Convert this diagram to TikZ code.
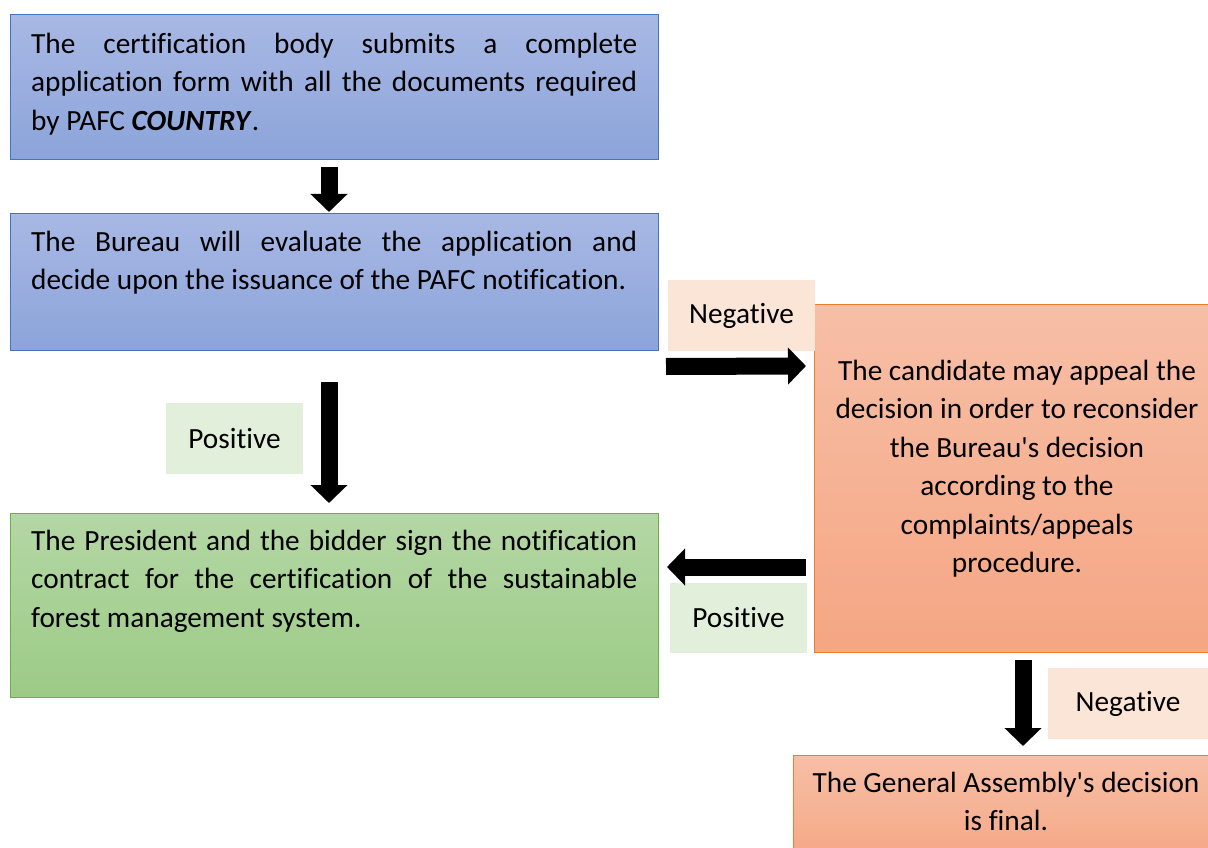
\documentclass[tikz,border=0pt]{standalone}
\usepackage{fontspec}
\setmainfont{Carlito}[Ligatures={TeXOff,NoCommon}]
\usetikzlibrary{arrows.meta,calc}
\definecolor{bluetop}{HTML}{A8B8E4}
\definecolor{bluebot}{HTML}{8CA4DA}
\definecolor{blueline}{HTML}{4472C4}
\definecolor{greentop}{HTML}{B4D7A5}
\definecolor{greenbot}{HTML}{9CCB86}
\definecolor{greenline}{HTML}{70AD47}
\definecolor{orangetop}{HTML}{F7BFA7}
\definecolor{orangebot}{HTML}{F5A683}
\definecolor{orangeline}{HTML}{ED7D31}
\definecolor{negfill}{HTML}{FBE5D6}
\definecolor{posfill}{HTML}{E2EFDA}
\begin{document}
\begin{tikzpicture}[x=1pt,y=-1pt,
  every node/.style={font=\fontsize{29.3}{38.4}\selectfont},
  box/.style={draw, line width=1pt, anchor=north west, inner sep=0pt, outer sep=0pt},
  bluebox/.style={box, draw=blueline, top color=bluetop, bottom color=bluebot},
  greenbox/.style={box, draw=greenline, top color=greentop, bottom color=greenbot},
  orangebox/.style={box, draw=orangeline, top color=orangetop, bottom color=orangebot},
  lbl/.style={anchor=north west, inner sep=0pt, outer sep=0pt},
  neglbl/.style={lbl, fill=negfill},
  poslbl/.style={lbl, fill=posfill},
  jtext/.style={anchor=north west, inner sep=0pt, text width=606pt, align=justify},
  ctext/.style={anchor=north, inner sep=0pt, align=center},
  blockarrow/.style={line width=17pt, -{Triangle[width=36pt,length=18pt]}}
]
\useasboundingbox (0,0) rectangle (1208,848);

% boxes
\node[bluebox, minimum width=648pt, minimum height=145pt] (b1) at (10,15) {};
\node[bluebox, minimum width=648pt, minimum height=137pt] (b2) at (10,213) {};
\node[greenbox, minimum width=648pt, minimum height=184pt] (b3) at (10,513) {};
\node[orangebox, minimum width=396pt, minimum height=348pt] (b4) at (814,304) {};
\node[orangebox, minimum width=420pt, minimum height=110pt] (b5) at (793,755) {};

% texts
\node[jtext] (t1) at (31,33) {The certification body submits a complete\linebreak application form with all the documents required\linebreak by PAFC \textbf{\textit{COUNTRY}}.};
\node[jtext] (t2) at (31,231) {The Bureau will evaluate the application and\linebreak decide upon the issuance of the PAFC notification.};
\node[jtext] (t3) at (31,530) {The President and the bidder sign the notification\linebreak contract for the certification of the sustainable\linebreak forest management system.};
\node[ctext] (t4) at (1017,360) {The candidate may appeal the\\decision in order to reconsider\\the Bureau's decision\\according to the\\complaints/appeals\\procedure.};
\node[ctext] (t5) at (1006,772) {The General Assembly's decision\\is final.};

% labels
\node[neglbl, minimum width=147pt, minimum height=71pt] (n1) at (668,280) {Negative};
\node[poslbl, minimum width=137pt, minimum height=71pt] (p1) at (166,403) {Positive};
\node[poslbl, minimum width=137pt, minimum height=70pt] (p2) at (670,583) {Positive};
\node[neglbl, minimum width=160pt, minimum height=71pt] (n2) at (1048,668) {Negative};

% arrows
\draw[blockarrow] ($(b1.south)+(-5,7)$) -- ($(b2.north)+(-5,-1)$);
\draw[blockarrow] ($(b2.south)+(-5,32)$) -- ($(b3.north)+(-5,-10)$);
\draw[blockarrow] ($(b2.east)+(8,85)$) -- ($(b4.west)+(-8,-112)$);
\draw[blockarrow] ($(b4.west)+(-8,89)$) -- ($(b3.east)+(9,-38)$);
\draw[blockarrow] ($(b4.south)+(11,8)$) -- ($(b5.north)+(20,-9)$);
\end{tikzpicture}
\end{document}
